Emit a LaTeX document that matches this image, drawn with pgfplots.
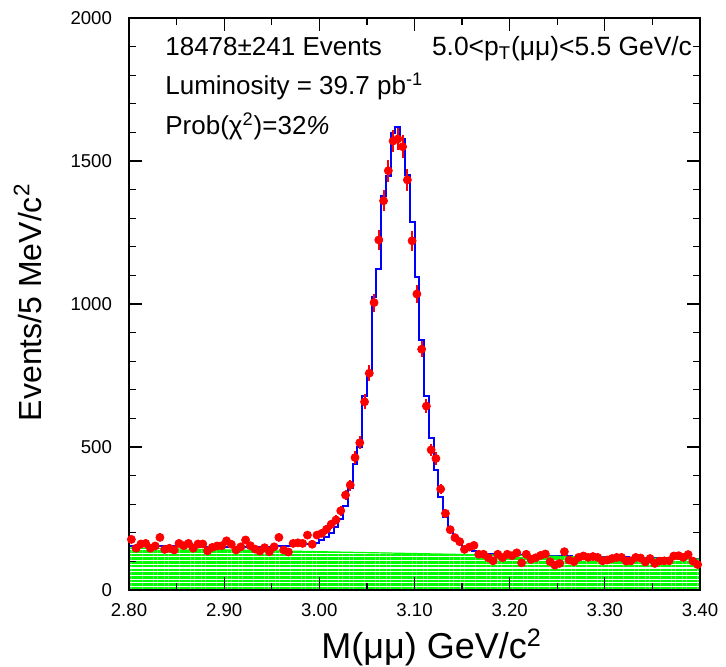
\documentclass[border=0pt]{standalone}
\usepackage{fontspec}
\setmainfont{Liberation Sans}
\usepackage{pgfplots}
\pgfplotsset{compat=1.18}
\usepackage{pgfplotstable}
\usetikzlibrary{patterns.meta}

\definecolor{hgreen}{RGB}{0,250,0}

\pgfplotstableread{
x y e
2.8025 177 13.3
2.8075 146 12.1
2.8125 161 12.7
2.8175 163 12.8
2.8225 146 12.1
2.8275 154 12.4
2.8325 184 13.6
2.8375 142 11.9
2.8425 146 12.1
2.8475 140 11.8
2.8525 163 12.8
2.8575 155 12.4
2.8625 163 12.8
2.8675 146 12.1
2.8725 161 12.7
2.8775 161 12.7
2.8825 137 11.7
2.8875 149 12.2
2.8925 154 12.4
2.8975 155 12.4
2.9025 172 13.1
2.9075 160 12.6
2.9125 140 11.8
2.9175 151 12.3
2.9225 175 13.2
2.9275 155 12.4
2.9325 143 12.0
2.9375 136 11.7
2.9425 148 12.2
2.9475 134 11.6
2.9525 151 12.3
2.9575 184 13.6
2.9625 140 11.8
2.9675 133 11.5
2.9725 163 12.8
2.9775 165 12.8
2.9825 163 12.8
2.9875 192 13.9
2.9925 160 12.6
2.9975 192 13.9
3.0025 198 14.1
3.0075 212 14.6
3.0125 230 15.2
3.0175 245 15.7
3.0225 277 16.6
3.0275 332 18.2
3.0325 367 19.2
3.0375 463 21.5
3.0425 515 22.7
3.0475 658 25.7
3.0525 758 27.5
3.0575 1005 31.7
3.0625 1224 35.0
3.0675 1361 36.9
3.0725 1466 38.3
3.0775 1570 39.6
3.0825 1577 39.7
3.0875 1550 39.4
3.0925 1434 37.9
3.0975 1221 34.9
3.1025 1035 32.2
3.1075 842 29.0
3.1125 643 25.4
3.1175 490 22.1
3.1225 460 21.4
3.1275 353 18.8
3.1325 268 16.4
3.1375 211 14.5
3.1425 183 13.5
3.1475 169 13.0
3.1525 142 11.9
3.1575 150 12.2
3.1625 156 12.5
3.1675 125 11.2
3.1725 125 11.2
3.1775 113 10.6
3.1825 102 10.1
3.1875 125 11.2
3.1925 113 10.6
3.1975 125 11.2
3.2025 120 11.0
3.2075 130 11.4
3.2125 95 9.7
3.2175 125 11.2
3.2225 107 10.3
3.2275 113 10.6
3.2325 121 11.0
3.2375 126 11.2
3.2425 99 9.9
3.2475 87 9.3
3.2525 93 9.6
3.2575 134 11.6
3.2625 105 10.2
3.2675 99 9.9
3.2725 114 10.7
3.2775 119 10.9
3.2825 114 10.7
3.2875 117 10.8
3.2925 114 10.7
3.2975 102 10.1
3.3025 105 10.2
3.3075 110 10.5
3.3125 114 10.7
3.3175 114 10.7
3.3225 101 10.0
3.3275 102 10.1
3.3325 114 10.7
3.3375 112 10.6
3.3425 98 9.9
3.3475 110 10.5
3.3525 93 9.6
3.3575 101 10.0
3.3625 102 10.1
3.3675 102 10.1
3.3725 119 10.9
3.3775 120 11.0
3.3825 114 10.7
3.3875 124 11.1
3.3925 101 10.0
3.3975 89 9.4
}\datatable

\pgfplotstableread{
x f
2.800 155
2.805 155
2.810 155
2.815 155
2.820 154
2.825 154
2.830 154
2.835 154
2.840 154
2.845 153
2.850 153
2.855 153
2.860 153
2.865 153
2.870 153
2.875 152
2.880 152
2.885 152
2.890 152
2.895 152
2.900 152
2.905 152
2.910 152
2.915 152
2.920 152
2.925 152
2.930 152
2.935 152
2.940 152
2.945 152
2.950 153
2.955 153
2.960 154
2.965 155
2.970 156
2.975 157
2.980 158
2.985 160
2.990 162
2.995 166
3.000 175
3.005 186
3.010 198
3.015 220
3.020 250
3.025 295
3.030 355
3.035 441
3.040 500
3.045 677
3.050 754
3.055 1023
3.060 1122
3.065 1378
3.070 1447
3.075 1598
3.080 1620
3.085 1577
3.090 1450
3.095 1286
3.100 1095
3.105 874
3.110 677
3.115 530
3.120 420
3.125 326
3.130 256
3.135 212
3.140 181
3.145 163
3.150 146
3.155 140
3.160 135
3.165 131
3.170 128
3.175 126
3.180 125
3.185 124
3.190 123
3.195 122
3.200 122
3.205 121
3.210 121
3.215 121
3.220 120
3.225 120
3.230 120
3.235 119
3.240 119
3.245 119
3.250 118
3.255 118
3.260 118
3.265 117
3.270 117
3.275 117
3.280 116
3.285 116
3.290 116
3.295 115
3.300 115
3.305 115
3.310 114
3.315 114
3.320 114
3.325 113
3.330 113
3.335 113
3.340 112
3.345 112
3.350 112
3.355 111
3.360 111
3.365 111
3.370 110
3.375 110
3.380 110
3.385 109
3.390 109
3.395 109
3.400 109
}\fittable

\begin{document}
\begin{tikzpicture}
\begin{axis}[
  at={(0,0)}, anchor=south west,
  width=285.5pt, height=286pt, scale only axis,
  xmin=2.8, xmax=3.4, ymin=0, ymax=2000,
  xtick={2.8,2.9,3.0,3.1,3.2,3.3,3.4},
  minor x tick num=1,
  ytick={0,500,1000,1500,2000},
  minor y tick num=4,
  tick align=inside,
  tick pos=both,
  major tick length=6.5pt, minor tick length=3.5pt,
  every tick/.style={black, line width=0.6pt},
  axis line style={line width=1pt},
  axis on top,
  scaled x ticks=false, scaled y ticks=false,
  xticklabel style={/pgf/number format/fixed, /pgf/number format/fixed zerofill, /pgf/number format/precision=2, yshift=-3pt},
  yticklabel style={/pgf/number format/fixed, /pgf/number format/1000 sep={}, xshift=-5pt},
  /pgf/number format/assume math mode=true,
  tick label style={font=\fontsize{9.3}{10}\selectfont},
  xlabel={M(μμ) GeV/c\textsuperscript{2}},
  ylabel={Events/5 MeV/c\textsuperscript{2}},
  xlabel style={font=\fontsize{18}{20}\selectfont, at={(axis description cs:0.53,-0.1)}, anchor=center},
  ylabel style={font=\fontsize{16}{18}\selectfont, at={(axis description cs:-0.177,0.503)}, anchor=center},
]
\addplot[const plot, color=blue, line width=1pt] table[x=x,y=f]{\fittable};
\addplot[draw=hgreen, line width=0.6pt, pattern={Lines[angle=0,distance=1.85pt,line width=1.3pt]}, pattern color=hgreen] coordinates {(2.8,147) (3.4,108)} \closedcycle;
\addplot[only marks, mark=*, mark size=2pt, color=red,
  error bars/.cd, y dir=both, y explicit, error mark=none,
  error bar style={line width=1pt, color=red}]
  table[x=x,y=y,y error=e]{\datatable};
\node[inner sep=0pt, anchor=base west, font=\fontsize{13}{15}\selectfont] at (rel axis cs:0.063,0.935) {18478±241 Events};
\node[inner sep=0pt, anchor=base west, font=\fontsize{13.2}{15}\selectfont] at (rel axis cs:0.53,0.935) {5.0<p\textsubscript{T}(μμ)<5.5 GeV/c};
\node[inner sep=0pt, anchor=base west, font=\fontsize{13}{15}\selectfont] at (rel axis cs:0.063,0.866) {Luminosity = 39.7 pb\textsuperscript{-1}};
\node[inner sep=0pt, anchor=base west, font=\fontsize{13}{15}\selectfont] at (rel axis cs:0.063,0.797) {Prob(χ\textsuperscript{2})=32\textit{\%}};
\end{axis}
\pgfresetboundingbox
\path[use as bounding box] (-64.5pt,-38pt) rectangle (298.5pt,295pt);
\end{tikzpicture}
\end{document}
